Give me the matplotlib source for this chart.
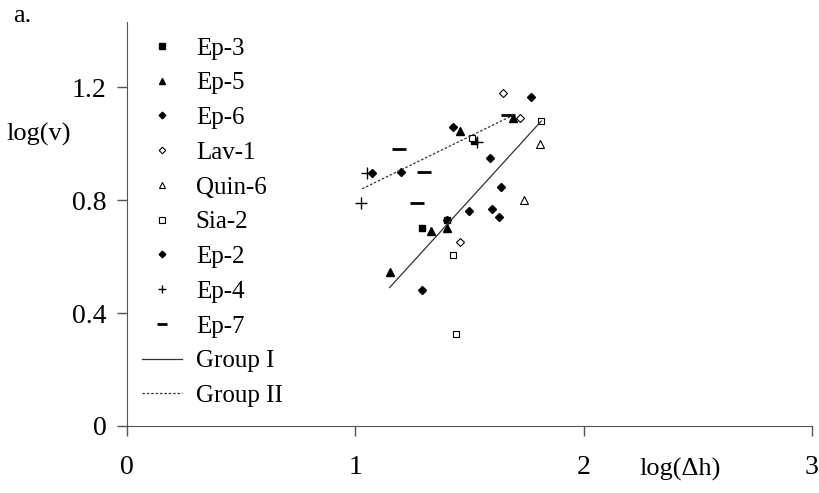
import matplotlib.pyplot as plt

plt.rcParams['font.family'] = ['Liberation Serif', 'DejaVu Serif']

# data
ep3_x = [1.29, 1.40, 1.52]
ep3_y = [0.70, 0.73, 1.01]
ep5_x = [1.15, 1.33, 1.40, 1.46, 1.69]
ep5_y = [0.545, 0.69, 0.70, 1.045, 1.09]
ep6_x = [1.29, 1.50, 1.59, 1.60, 1.63, 1.64, 1.77]
ep6_y = [0.48, 0.76, 0.95, 0.77, 0.74, 0.845, 1.165]
lav1_x = [1.46, 1.645, 1.72]
lav1_y = [0.65, 1.18, 1.09]
quin6_x = [1.74, 1.81]
quin6_y = [0.80, 1.00]
sia2_x = [1.43, 1.44, 1.51, 1.815]
sia2_y = [0.605, 0.325, 1.02, 1.08]
ep2_x = [1.075, 1.20, 1.43, 1.40]
ep2_y = [0.895, 0.90, 1.06, 0.73]
ep4_x = [1.025, 1.05, 1.535]
ep4_y = [0.79, 0.895, 1.005]
ep7_x = [1.19, 1.27, 1.30, 1.67]
ep7_y = [0.98, 0.79, 0.90, 1.10]

group1_x = [1.15, 1.815]
group1_y = [0.49, 1.08]
group2_x = [1.03, 1.69]
group2_y = [0.84, 1.10]

fig = plt.figure(figsize=(8.2, 4.93), dpi=100)
ax = fig.add_axes([0.155, 0.136, 0.835, 0.819])

k = dict(linestyle='none', color='black')
ax.plot(ep3_x, ep3_y, marker='s', ms=5, label='Ep-3', **k)
ax.plot(ep5_x, ep5_y, marker='^', ms=6, label='Ep-5', **k)
ax.plot(ep6_x, ep6_y, marker='D', ms=4.5, label='Ep-6', **k)
ax.plot(lav1_x, lav1_y, marker='D', ms=4.5, mfc='white', mew=0.8, label='Lav-1', **k)
ax.plot(quin6_x, quin6_y, marker='^', ms=6, mfc='white', mew=0.8, label='Quin-6', **k)
ax.plot(sia2_x, sia2_y, marker='s', ms=5, mfc='white', mew=0.8, label='Sia-2', **k)
ax.plot(ep2_x, ep2_y, marker='D', ms=4.5, label='Ep-2', **k)
ax.plot(ep4_x, ep4_y, marker='+', ms=8, mew=1.0, label='Ep-4', **k)
ax.plot(ep7_x, ep7_y, marker='_', ms=10, mew=2, label='Ep-7', **k)
ax.plot(group1_x, group1_y, color='#333333', lw=0.9, label='Group I')
ax.plot(group2_x, group2_y, color='#333333', lw=0.9, linestyle=(0, (2, 1.5)), label='Group II')

ax.set_xlim(0, 3)
ax.set_ylim(0, 1.43)
ax.set_xticks([0, 1, 2, 3])
ax.set_xticklabels(['0', '1', '2', '3'])
ax.set_yticks([0, 0.4, 0.8, 1.2])
ax.set_yticklabels(['0', '0.4', '0.8', '1.2'])
ax.tick_params(labelsize=20, colors='#555555', labelcolor='black', length=7, width=1, pad=8)
ax.tick_params(axis='x', pad=14)
for s in ['top', 'right']:
    ax.spines[s].set_visible(False)
for s in ['left', 'bottom']:
    ax.spines[s].set_color('#555555')

fig.text(0.016, 0.955, 'a.', fontsize=19)
fig.text(0.008, 0.715, 'log(v)', fontsize=19)
fig.text(0.78, 0.035, 'log(Δh)', fontsize=19)

ax.legend(loc='upper left', bbox_to_anchor=(0.0, 1.0), frameon=False, fontsize=18,
          markerscale=0.75, handlelength=1.6, handletextpad=0.55, labelspacing=0.49,
          borderaxespad=0.2)

fig.savefig('out.png', dpi=100)
